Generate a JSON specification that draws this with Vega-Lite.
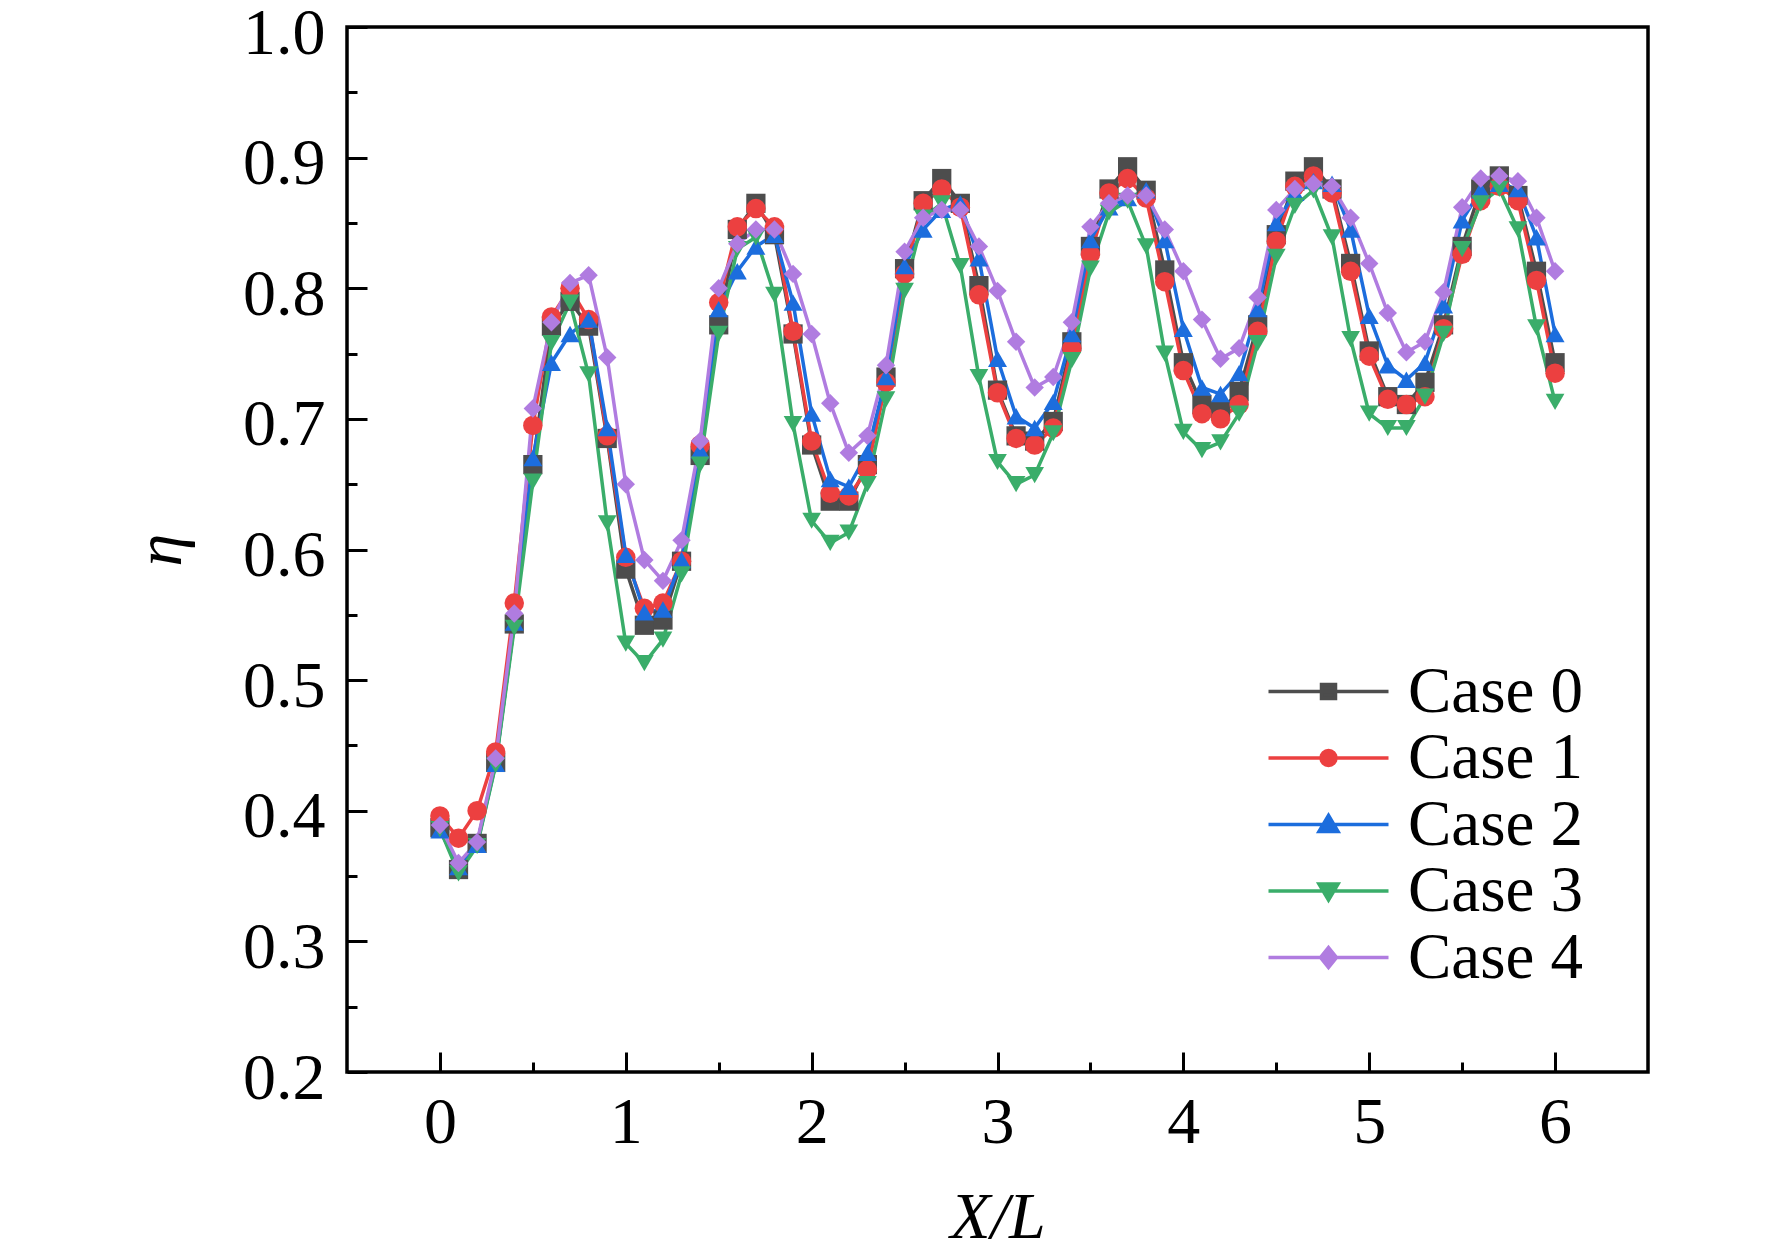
{
  "$schema": "https://vega.github.io/schema/vega-lite/v6.json",
  "width": 1301,
  "height": 1045,
  "autosize": {"type": "none"},
  "padding": {"left": 347, "top": 27, "right": 124, "bottom": 187},
  "background": "white",
  "config": {
    "font": "Liberation Serif",
    "view": {"stroke": "black", "strokeWidth": 3.5}
  },
  "datasets": {
    "eta": [
      {"x":0.0,"c":"Case 0","eta":0.387},{"x":0.1,"c":"Case 0","eta":0.355},{"x":0.2,"c":"Case 0","eta":0.375},{"x":0.3,"c":"Case 0","eta":0.437},{"x":0.4,"c":"Case 0","eta":0.543},
      {"x":0.5,"c":"Case 0","eta":0.665},{"x":0.6,"c":"Case 0","eta":0.771},{"x":0.7,"c":"Case 0","eta":0.790},{"x":0.8,"c":"Case 0","eta":0.771},{"x":0.9,"c":"Case 0","eta":0.685},
      {"x":1.0,"c":"Case 0","eta":0.585},{"x":1.1,"c":"Case 0","eta":0.542},{"x":1.2,"c":"Case 0","eta":0.546},{"x":1.3,"c":"Case 0","eta":0.591},{"x":1.4,"c":"Case 0","eta":0.672},
      {"x":1.5,"c":"Case 0","eta":0.772},{"x":1.6,"c":"Case 0","eta":0.845},{"x":1.7,"c":"Case 0","eta":0.865},{"x":1.8,"c":"Case 0","eta":0.841},{"x":1.9,"c":"Case 0","eta":0.765},
      {"x":2.0,"c":"Case 0","eta":0.680},{"x":2.1,"c":"Case 0","eta":0.637},{"x":2.2,"c":"Case 0","eta":0.637},{"x":2.3,"c":"Case 0","eta":0.665},{"x":2.4,"c":"Case 0","eta":0.732},
      {"x":2.5,"c":"Case 0","eta":0.815},{"x":2.6,"c":"Case 0","eta":0.867},{"x":2.7,"c":"Case 0","eta":0.884},{"x":2.8,"c":"Case 0","eta":0.865},{"x":2.9,"c":"Case 0","eta":0.802},
      {"x":3.0,"c":"Case 0","eta":0.722},{"x":3.1,"c":"Case 0","eta":0.687},{"x":3.2,"c":"Case 0","eta":0.683},{"x":3.3,"c":"Case 0","eta":0.698},{"x":3.4,"c":"Case 0","eta":0.759},
      {"x":3.5,"c":"Case 0","eta":0.832},{"x":3.6,"c":"Case 0","eta":0.876},{"x":3.7,"c":"Case 0","eta":0.893},{"x":3.8,"c":"Case 0","eta":0.875},{"x":3.9,"c":"Case 0","eta":0.814},
      {"x":4.0,"c":"Case 0","eta":0.743},{"x":4.1,"c":"Case 0","eta":0.711},{"x":4.2,"c":"Case 0","eta":0.706},{"x":4.3,"c":"Case 0","eta":0.721},{"x":4.4,"c":"Case 0","eta":0.772},
      {"x":4.5,"c":"Case 0","eta":0.841},{"x":4.6,"c":"Case 0","eta":0.882},{"x":4.7,"c":"Case 0","eta":0.893},{"x":4.8,"c":"Case 0","eta":0.876},{"x":4.9,"c":"Case 0","eta":0.819},
      {"x":5.0,"c":"Case 0","eta":0.752},{"x":5.1,"c":"Case 0","eta":0.717},{"x":5.2,"c":"Case 0","eta":0.711},{"x":5.3,"c":"Case 0","eta":0.728},{"x":5.4,"c":"Case 0","eta":0.772},
      {"x":5.5,"c":"Case 0","eta":0.832},{"x":5.6,"c":"Case 0","eta":0.876},{"x":5.7,"c":"Case 0","eta":0.886},{"x":5.8,"c":"Case 0","eta":0.871},{"x":5.9,"c":"Case 0","eta":0.813},
      {"x":6.0,"c":"Case 0","eta":0.743},

      {"x":0.0,"c":"Case 1","eta":0.396},{"x":0.1,"c":"Case 1","eta":0.379},{"x":0.2,"c":"Case 1","eta":0.400},{"x":0.3,"c":"Case 1","eta":0.445},{"x":0.4,"c":"Case 1","eta":0.559},
      {"x":0.5,"c":"Case 1","eta":0.695},{"x":0.6,"c":"Case 1","eta":0.778},{"x":0.7,"c":"Case 1","eta":0.800},{"x":0.8,"c":"Case 1","eta":0.776},{"x":0.9,"c":"Case 1","eta":0.687},
      {"x":1.0,"c":"Case 1","eta":0.594},{"x":1.1,"c":"Case 1","eta":0.555},{"x":1.2,"c":"Case 1","eta":0.559},{"x":1.3,"c":"Case 1","eta":0.591},{"x":1.4,"c":"Case 1","eta":0.680},
      {"x":1.5,"c":"Case 1","eta":0.789},{"x":1.6,"c":"Case 1","eta":0.847},{"x":1.7,"c":"Case 1","eta":0.861},{"x":1.8,"c":"Case 1","eta":0.847},{"x":1.9,"c":"Case 1","eta":0.767},
      {"x":2.0,"c":"Case 1","eta":0.683},{"x":2.1,"c":"Case 1","eta":0.643},{"x":2.2,"c":"Case 1","eta":0.641},{"x":2.3,"c":"Case 1","eta":0.661},{"x":2.4,"c":"Case 1","eta":0.728},
      {"x":2.5,"c":"Case 1","eta":0.811},{"x":2.6,"c":"Case 1","eta":0.865},{"x":2.7,"c":"Case 1","eta":0.876},{"x":2.8,"c":"Case 1","eta":0.862},{"x":2.9,"c":"Case 1","eta":0.795},
      {"x":3.0,"c":"Case 1","eta":0.720},{"x":3.1,"c":"Case 1","eta":0.685},{"x":3.2,"c":"Case 1","eta":0.680},{"x":3.3,"c":"Case 1","eta":0.693},{"x":3.4,"c":"Case 1","eta":0.754},
      {"x":3.5,"c":"Case 1","eta":0.826},{"x":3.6,"c":"Case 1","eta":0.873},{"x":3.7,"c":"Case 1","eta":0.884},{"x":3.8,"c":"Case 1","eta":0.869},{"x":3.9,"c":"Case 1","eta":0.805},
      {"x":4.0,"c":"Case 1","eta":0.737},{"x":4.1,"c":"Case 1","eta":0.704},{"x":4.2,"c":"Case 1","eta":0.700},{"x":4.3,"c":"Case 1","eta":0.711},{"x":4.4,"c":"Case 1","eta":0.767},
      {"x":4.5,"c":"Case 1","eta":0.836},{"x":4.6,"c":"Case 1","eta":0.878},{"x":4.7,"c":"Case 1","eta":0.886},{"x":4.8,"c":"Case 1","eta":0.873},{"x":4.9,"c":"Case 1","eta":0.813},
      {"x":5.0,"c":"Case 1","eta":0.748},{"x":5.1,"c":"Case 1","eta":0.715},{"x":5.2,"c":"Case 1","eta":0.711},{"x":5.3,"c":"Case 1","eta":0.717},{"x":5.4,"c":"Case 1","eta":0.769},
      {"x":5.5,"c":"Case 1","eta":0.826},{"x":5.6,"c":"Case 1","eta":0.867},{"x":5.7,"c":"Case 1","eta":0.878},{"x":5.8,"c":"Case 1","eta":0.867},{"x":5.9,"c":"Case 1","eta":0.806},
      {"x":6.0,"c":"Case 1","eta":0.735},

      {"x":0.0,"c":"Case 2","eta":0.385},{"x":0.1,"c":"Case 2","eta":0.357},{"x":0.2,"c":"Case 2","eta":0.374},{"x":0.3,"c":"Case 2","eta":0.436},{"x":0.4,"c":"Case 2","eta":0.544},
      {"x":0.5,"c":"Case 2","eta":0.670},{"x":0.6,"c":"Case 2","eta":0.743},{"x":0.7,"c":"Case 2","eta":0.765},{"x":0.8,"c":"Case 2","eta":0.776},{"x":0.9,"c":"Case 2","eta":0.693},
      {"x":1.0,"c":"Case 2","eta":0.596},{"x":1.1,"c":"Case 2","eta":0.552},{"x":1.2,"c":"Case 2","eta":0.554},{"x":1.3,"c":"Case 2","eta":0.592},{"x":1.4,"c":"Case 2","eta":0.676},
      {"x":1.5,"c":"Case 2","eta":0.784},{"x":1.6,"c":"Case 2","eta":0.813},{"x":1.7,"c":"Case 2","eta":0.832},{"x":1.8,"c":"Case 2","eta":0.841},{"x":1.9,"c":"Case 2","eta":0.789},
      {"x":2.0,"c":"Case 2","eta":0.704},{"x":2.1,"c":"Case 2","eta":0.654},{"x":2.2,"c":"Case 2","eta":0.648},{"x":2.3,"c":"Case 2","eta":0.674},{"x":2.4,"c":"Case 2","eta":0.732},
      {"x":2.5,"c":"Case 2","eta":0.817},{"x":2.6,"c":"Case 2","eta":0.845},{"x":2.7,"c":"Case 2","eta":0.860},{"x":2.8,"c":"Case 2","eta":0.865},{"x":2.9,"c":"Case 2","eta":0.823},
      {"x":3.0,"c":"Case 2","eta":0.746},{"x":3.1,"c":"Case 2","eta":0.702},{"x":3.2,"c":"Case 2","eta":0.693},{"x":3.3,"c":"Case 2","eta":0.713},{"x":3.4,"c":"Case 2","eta":0.765},
      {"x":3.5,"c":"Case 2","eta":0.837},{"x":3.6,"c":"Case 2","eta":0.862},{"x":3.7,"c":"Case 2","eta":0.869},{"x":3.8,"c":"Case 2","eta":0.875},{"x":3.9,"c":"Case 2","eta":0.837},
      {"x":4.0,"c":"Case 2","eta":0.769},{"x":4.1,"c":"Case 2","eta":0.724},{"x":4.2,"c":"Case 2","eta":0.719},{"x":4.3,"c":"Case 2","eta":0.735},{"x":4.4,"c":"Case 2","eta":0.784},
      {"x":4.5,"c":"Case 2","eta":0.850},{"x":4.6,"c":"Case 2","eta":0.873},{"x":4.7,"c":"Case 2","eta":0.882},{"x":4.8,"c":"Case 2","eta":0.880},{"x":4.9,"c":"Case 2","eta":0.845},
      {"x":5.0,"c":"Case 2","eta":0.779},{"x":5.1,"c":"Case 2","eta":0.741},{"x":5.2,"c":"Case 2","eta":0.730},{"x":5.3,"c":"Case 2","eta":0.743},{"x":5.4,"c":"Case 2","eta":0.787},
      {"x":5.5,"c":"Case 2","eta":0.852},{"x":5.6,"c":"Case 2","eta":0.875},{"x":5.7,"c":"Case 2","eta":0.880},{"x":5.8,"c":"Case 2","eta":0.876},{"x":5.9,"c":"Case 2","eta":0.839},
      {"x":6.0,"c":"Case 2","eta":0.765},

      {"x":0.0,"c":"Case 3","eta":0.386},{"x":0.1,"c":"Case 3","eta":0.352},{"x":0.2,"c":"Case 3","eta":0.373},{"x":0.3,"c":"Case 3","eta":0.435},{"x":0.4,"c":"Case 3","eta":0.540},
      {"x":0.5,"c":"Case 3","eta":0.652},{"x":0.6,"c":"Case 3","eta":0.758},{"x":0.7,"c":"Case 3","eta":0.789},{"x":0.8,"c":"Case 3","eta":0.734},{"x":0.9,"c":"Case 3","eta":0.620},
      {"x":1.0,"c":"Case 3","eta":0.528},{"x":1.1,"c":"Case 3","eta":0.513},{"x":1.2,"c":"Case 3","eta":0.531},{"x":1.3,"c":"Case 3","eta":0.581},{"x":1.4,"c":"Case 3","eta":0.665},
      {"x":1.5,"c":"Case 3","eta":0.765},{"x":1.6,"c":"Case 3","eta":0.830},{"x":1.7,"c":"Case 3","eta":0.839},{"x":1.8,"c":"Case 3","eta":0.795},{"x":1.9,"c":"Case 3","eta":0.696},
      {"x":2.0,"c":"Case 3","eta":0.622},{"x":2.1,"c":"Case 3","eta":0.605},{"x":2.2,"c":"Case 3","eta":0.613},{"x":2.3,"c":"Case 3","eta":0.650},{"x":2.4,"c":"Case 3","eta":0.715},
      {"x":2.5,"c":"Case 3","eta":0.798},{"x":2.6,"c":"Case 3","eta":0.854},{"x":2.7,"c":"Case 3","eta":0.865},{"x":2.8,"c":"Case 3","eta":0.817},{"x":2.9,"c":"Case 3","eta":0.732},
      {"x":3.0,"c":"Case 3","eta":0.667},{"x":3.1,"c":"Case 3","eta":0.650},{"x":3.2,"c":"Case 3","eta":0.657},{"x":3.3,"c":"Case 3","eta":0.689},{"x":3.4,"c":"Case 3","eta":0.745},
      {"x":3.5,"c":"Case 3","eta":0.815},{"x":3.6,"c":"Case 3","eta":0.858},{"x":3.7,"c":"Case 3","eta":0.867},{"x":3.8,"c":"Case 3","eta":0.832},{"x":3.9,"c":"Case 3","eta":0.750},
      {"x":4.0,"c":"Case 3","eta":0.690},{"x":4.1,"c":"Case 3","eta":0.676},{"x":4.2,"c":"Case 3","eta":0.682},{"x":4.3,"c":"Case 3","eta":0.704},{"x":4.4,"c":"Case 3","eta":0.758},
      {"x":4.5,"c":"Case 3","eta":0.824},{"x":4.6,"c":"Case 3","eta":0.863},{"x":4.7,"c":"Case 3","eta":0.875},{"x":4.8,"c":"Case 3","eta":0.839},{"x":4.9,"c":"Case 3","eta":0.761},
      {"x":5.0,"c":"Case 3","eta":0.704},{"x":5.1,"c":"Case 3","eta":0.693},{"x":5.2,"c":"Case 3","eta":0.693},{"x":5.3,"c":"Case 3","eta":0.717},{"x":5.4,"c":"Case 3","eta":0.765},
      {"x":5.5,"c":"Case 3","eta":0.830},{"x":5.6,"c":"Case 3","eta":0.865},{"x":5.7,"c":"Case 3","eta":0.876},{"x":5.8,"c":"Case 3","eta":0.845},{"x":5.9,"c":"Case 3","eta":0.770},
      {"x":6.0,"c":"Case 3","eta":0.713},

      {"x":0.0,"c":"Case 4","eta":0.389},{"x":0.1,"c":"Case 4","eta":0.360},{"x":0.2,"c":"Case 4","eta":0.376},{"x":0.3,"c":"Case 4","eta":0.440},{"x":0.4,"c":"Case 4","eta":0.551},
      {"x":0.5,"c":"Case 4","eta":0.708},{"x":0.6,"c":"Case 4","eta":0.774},{"x":0.7,"c":"Case 4","eta":0.804},{"x":0.8,"c":"Case 4","eta":0.810},{"x":0.9,"c":"Case 4","eta":0.747},
      {"x":1.0,"c":"Case 4","eta":0.650},{"x":1.1,"c":"Case 4","eta":0.592},{"x":1.2,"c":"Case 4","eta":0.576},{"x":1.3,"c":"Case 4","eta":0.607},{"x":1.4,"c":"Case 4","eta":0.683},
      {"x":1.5,"c":"Case 4","eta":0.800},{"x":1.6,"c":"Case 4","eta":0.834},{"x":1.7,"c":"Case 4","eta":0.845},{"x":1.8,"c":"Case 4","eta":0.845},{"x":1.9,"c":"Case 4","eta":0.811},
      {"x":2.0,"c":"Case 4","eta":0.765},{"x":2.1,"c":"Case 4","eta":0.712},{"x":2.2,"c":"Case 4","eta":0.674},{"x":2.3,"c":"Case 4","eta":0.687},{"x":2.4,"c":"Case 4","eta":0.741},
      {"x":2.5,"c":"Case 4","eta":0.828},{"x":2.6,"c":"Case 4","eta":0.854},{"x":2.7,"c":"Case 4","eta":0.860},{"x":2.8,"c":"Case 4","eta":0.860},{"x":2.9,"c":"Case 4","eta":0.832},
      {"x":3.0,"c":"Case 4","eta":0.798},{"x":3.1,"c":"Case 4","eta":0.759},{"x":3.2,"c":"Case 4","eta":0.724},{"x":3.3,"c":"Case 4","eta":0.732},{"x":3.4,"c":"Case 4","eta":0.774},
      {"x":3.5,"c":"Case 4","eta":0.847},{"x":3.6,"c":"Case 4","eta":0.865},{"x":3.7,"c":"Case 4","eta":0.871},{"x":3.8,"c":"Case 4","eta":0.871},{"x":3.9,"c":"Case 4","eta":0.845},
      {"x":4.0,"c":"Case 4","eta":0.813},{"x":4.1,"c":"Case 4","eta":0.776},{"x":4.2,"c":"Case 4","eta":0.746},{"x":4.3,"c":"Case 4","eta":0.754},{"x":4.4,"c":"Case 4","eta":0.793},
      {"x":4.5,"c":"Case 4","eta":0.860},{"x":4.6,"c":"Case 4","eta":0.876},{"x":4.7,"c":"Case 4","eta":0.880},{"x":4.8,"c":"Case 4","eta":0.878},{"x":4.9,"c":"Case 4","eta":0.854},
      {"x":5.0,"c":"Case 4","eta":0.819},{"x":5.1,"c":"Case 4","eta":0.781},{"x":5.2,"c":"Case 4","eta":0.751},{"x":5.3,"c":"Case 4","eta":0.759},{"x":5.4,"c":"Case 4","eta":0.797},
      {"x":5.5,"c":"Case 4","eta":0.862},{"x":5.6,"c":"Case 4","eta":0.884},{"x":5.7,"c":"Case 4","eta":0.886},{"x":5.8,"c":"Case 4","eta":0.882},{"x":5.9,"c":"Case 4","eta":0.854},
      {"x":6.0,"c":"Case 4","eta":0.813}
    ]
  },
  "data": {"name": "eta"},
  "layer": [
    {
      "mark": {"type": "line", "strokeWidth": 3.5},
      "encoding": {
        "x": {
          "field": "x", "type": "quantitative",
          "scale": {"domain": [-0.5, 6.5], "nice": false, "zero": false},
          "axis": {
            "orient": "bottom", "values": [0.5, 1.5, 2.5, 3.5, 4.5, 5.5],
            "labels": false, "title": null, "grid": false, "domain": false,
            "tickSize": -10, "tickWidth": 3, "tickColor": "black"
          }
        },
        "y": {
          "field": "eta", "type": "quantitative",
          "scale": {"domain": [0.2, 1.0], "nice": false, "zero": false},
          "axis": {
            "orient": "left", "values": [0.25, 0.35, 0.45, 0.55, 0.65, 0.75, 0.85, 0.95],
            "labels": false, "title": null, "grid": false, "domain": false,
            "tickSize": -10, "tickWidth": 3, "tickColor": "black"
          }
        },
        "color": {
          "field": "c", "type": "nominal",
          "scale": {
            "domain": ["Case 0", "Case 1", "Case 2", "Case 3", "Case 4"],
            "range": ["#4d4d4d", "#ec4040", "#1c6ddd", "#3aad6a", "#b07ce0"]
          }
        }
      }
    },
    {
      "mark": {"type": "point", "filled": true, "opacity": 1},
      "encoding": {
        "x": {
          "field": "x", "type": "quantitative",
          "scale": {"domain": [-0.5, 6.5], "nice": false, "zero": false},
          "axis": {
            "orient": "bottom", "values": [0, 1, 2, 3, 4, 5, 6], "format": "d",
            "grid": false, "domain": false,
            "tickSize": -20, "tickWidth": 3, "tickColor": "black",
            "labelFont": "Liberation Serif", "labelFontSize": 66, "labelColor": "black",
            "labelPadding": 38,
            "title": "X/L", "titleFont": "Liberation Serif", "titleFontSize": 66,
            "titleFontStyle": "italic", "titleFontWeight": "normal", "titleColor": "black",
            "titlePadding": 30
          }
        },
        "y": {
          "field": "eta", "type": "quantitative",
          "scale": {"domain": [0.2, 1.0], "nice": false, "zero": false},
          "axis": {
            "orient": "left", "values": [0.2, 0.3, 0.4, 0.5, 0.6, 0.7, 0.8, 0.9, 1.0], "format": ".1f",
            "grid": false, "domain": false,
            "tickSize": -20, "tickWidth": 3, "tickColor": "black",
            "labelFont": "Liberation Serif", "labelFontSize": 66, "labelColor": "black",
            "labelPadding": 42, "labelOffset": 6,
            "title": "η", "titleFont": "Liberation Serif", "titleFontSize": 66,
            "titleFontStyle": "italic", "titleFontWeight": "normal", "titleColor": "black",
            "titlePadding": 48
          }
        },
        "color": {
          "field": "c", "type": "nominal",
          "scale": {
            "domain": ["Case 0", "Case 1", "Case 2", "Case 3", "Case 4"],
            "range": ["#4d4d4d", "#ec4040", "#1c6ddd", "#3aad6a", "#b07ce0"]
          },
          "legend": {
            "orient": "none", "legendX": 949, "legendY": 632,
            "title": null, "padding": 0, "rowPadding": 0.5,
            "labelFont": "Liberation Serif", "labelFontSize": 65, "labelColor": "black",
            "labelOffset": 47, "labelLimit": 400,
            "symbolSize": 400, "symbolStrokeWidth": 3.5,
            "symbolType": {"expr": "datum.value === 'Case 0' ? 'M-6,0H6M-0.7,-0.7H0.7V0.7H-0.7Z' : datum.value === 'Case 1' ? 'M-6,0H6M0.75,0L0.693,0.287L0.53,0.53L0.287,0.693L0,0.75L-0.287,0.693L-0.53,0.53L-0.693,0.287L-0.75,0L-0.693,-0.287L-0.53,-0.53L-0.287,-0.693L0,-0.75L0.287,-0.693L0.53,-0.53L0.693,-0.287Z' : datum.value === 'Case 2' ? 'M-6,0H6M0,-0.9L0.95,0.7L-0.95,0.7Z' : datum.value === 'Case 3' ? 'M-6,0H6M0,0.9L0.95,-0.7L-0.95,-0.7Z' : 'M-6,0H6M0,-1L0.8,0L0,1L-0.8,0Z'"},
            "encode": {
              "symbols": {
                "stroke": {"value": {"expr": "scale('color', datum.value)"}},
                "fill": {"value": {"expr": "scale('color', datum.value)"}},
                "strokeWidth": {"value": 3.5},
                "size": {"value": 400},
                "opacity": {"value": 1}
              }
            }
          }
        },
        "shape": {
          "field": "c", "type": "nominal",
          "scale": {
            "domain": ["Case 4", "Case 3", "Case 2", "Case 1", "Case 0"],
            "range": ["diamond", "triangle-down", "triangle-up", "circle", "square"]
          },
          "legend": null
        },
        "size": {
          "field": "c", "type": "nominal",
          "scale": {
            "domain": ["Case 1", "Case 0", "Case 2", "Case 3", "Case 4"],
            "range": [380, 340, 560, 560, 480]
          },
          "legend": null
        }
      }
    }
  ],
  "resolve": {"axis": {"x": "independent", "y": "independent"}}
}
